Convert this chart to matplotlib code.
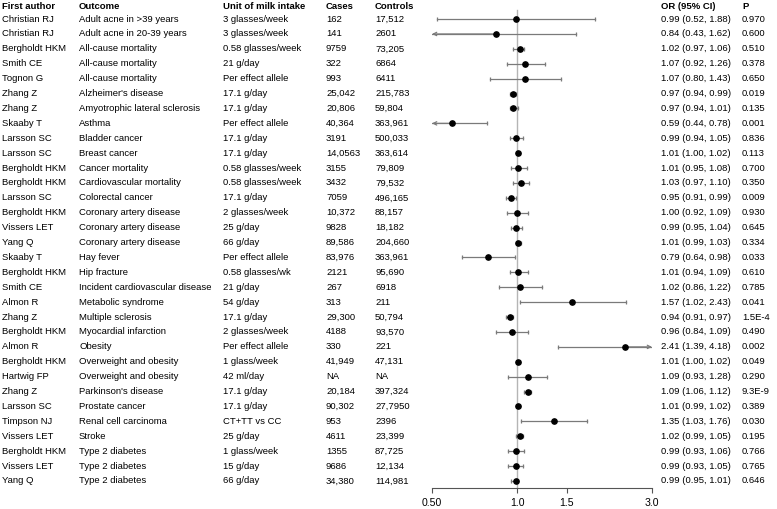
import numpy as np
import matplotlib
matplotlib.use('Agg')
from matplotlib import pyplot as plt
from matplotlib.transforms import blended_transform_factory

plt.rcParams['font.family'] = ['Liberation Sans', 'DejaVu Sans']

authors = ['Christian RJ', 'Christian RJ', 'Bergholdt HKM', 'Smith CE', 'Tognon G', 'Zhang Z', 'Zhang Z',
           'Skaaby T', 'Larsson SC', 'Larsson SC', 'Bergholdt HKM', 'Bergholdt HKM', 'Larsson SC',
           'Bergholdt HKM', 'Vissers LET', 'Yang Q', 'Skaaby T', 'Bergholdt HKM', 'Smith CE', 'Almon R',
           'Zhang Z', 'Bergholdt HKM', 'Almon R', 'Bergholdt HKM', 'Hartwig FP', 'Zhang Z', 'Larsson SC',
           'Timpson NJ', 'Vissers LET', 'Bergholdt HKM', 'Vissers LET', 'Yang Q']
outcomes = ['Adult acne in >39 years', 'Adult acne in 20-39 years', 'All-cause mortality', 'All-cause mortality',
            'All-cause mortality', "Alzheimer's disease", 'Amyotrophic lateral sclerosis', 'Asthma',
            'Bladder cancer', 'Breast cancer', 'Cancer mortality', 'Cardiovascular mortality',
            'Colorectal cancer', 'Coronary artery disease', 'Coronary artery disease', 'Coronary artery disease',
            'Hay fever', 'Hip fracture', 'Incident cardiovascular disease', 'Metabolic syndrome',
            'Multiple sclerosis', 'Myocardial infarction', 'Obesity', 'Overweight and obesity',
            'Overweight and obesity', "Parkinson's disease", 'Prostate cancer', 'Renal cell carcinoma',
            'Stroke', 'Type 2 diabetes', 'Type 2 diabetes', 'Type 2 diabetes']
units = ['3 glasses/week', '3 glasses/week', '0.58 glasses/week', '21 g/day', 'Per effect allele', '17.1 g/day',
         '17.1 g/day', 'Per effect allele', '17.1 g/day', '17.1 g/day', '0.58 glasses/week', '0.58 glasses/week',
         '17.1 g/day', '2 glasses/week', '25 g/day', '66 g/day', 'Per effect allele', '0.58 glasses/wk',
         '21 g/day', '54 g/day', '17.1 g/day', '2 glasses/week', 'Per effect allele', '1 glass/week',
         '42 ml/day', '17.1 g/day', '17.1 g/day', 'CT+TT vs CC', '25 g/day', '1 glass/week', '15 g/day',
         '66 g/day']
cases = ['162', '141', '9759', '322', '993', '25,042', '20,806', '40,364', '3191', '14,0563', '3155', '3432',
         '7059', '10,372', '9828', '89,586', '83,976', '2121', '267', '313', '29,300', '4188', '330', '41,949',
         'NA', '20,184', '90,302', '953', '4611', '1355', '9686', '34,380']
controls = ['17,512', '2601', '73,205', '6864', '6411', '215,783', '59,804', '363,961', '500,033', '363,614',
            '79,809', '79,532', '496,165', '88,157', '18,182', '204,660', '363,961', '95,690', '6918', '211',
            '50,794', '93,570', '221', '47,131', 'NA', '397,324', '27,7950', '2396', '23,399', '87,725',
            '12,134', '114,981']
or_est = [0.99, 0.84, 1.02, 1.07, 1.07, 0.97, 0.97, 0.59, 0.99, 1.01, 1.01, 1.03, 0.95, 1.00, 0.99, 1.01,
          0.79, 1.01, 1.02, 1.57, 0.94, 0.96, 2.41, 1.01, 1.09, 1.09, 1.01, 1.35, 1.02, 0.99, 0.99, 0.99]
ci_low = [0.52, 0.43, 0.97, 0.92, 0.80, 0.94, 0.94, 0.44, 0.94, 1.00, 0.95, 0.97, 0.91, 0.92, 0.95, 0.99,
          0.64, 0.94, 0.86, 1.02, 0.91, 0.84, 1.39, 1.00, 0.93, 1.06, 0.99, 1.03, 0.99, 0.93, 0.93, 0.95]
ci_high = [1.88, 1.62, 1.06, 1.26, 1.43, 0.99, 1.01, 0.78, 1.05, 1.02, 1.08, 1.10, 0.99, 1.09, 1.04, 1.03,
           0.98, 1.09, 1.22, 2.43, 0.97, 1.09, 4.18, 1.02, 1.28, 1.12, 1.02, 1.76, 1.05, 1.06, 1.05, 1.01]
p_values = ['0.970', '0.600', '0.510', '0.378', '0.650', '0.019', '0.135', '0.001', '0.836', '0.113', '0.700',
            '0.350', '0.009', '0.930', '0.645', '0.334', '0.033', '0.610', '0.785', '0.041', '1.5E-4', '0.490',
            '0.002', '0.049', '0.290', '9.3E-9', '0.389', '0.030', '0.195', '0.766', '0.765', '0.646']
headers = ['First author', 'Outcome', 'Unit of milk intake', 'Cases', 'Controls', 'OR (95% CI)', 'P']
xticks = [0.5, 1.0, 1.5, 3.0]
xticklabels = ['0.50', '1.0', '1.5', '3.0']

W, H = 777, 509
fig = plt.figure(figsize=(W / 100, H / 100), dpi=100)
ax = fig.add_axes([432 / W, (H - 488) / H, (652 - 432) / W, 488 / H])
xmin, xmax = 0.5, 3.0
ax.set_xscale('log')
ax.set_xlim(xmin, xmax)
ax.set_ylim(31.47, -1.28)

for s in ['top', 'right', 'left']:
    ax.spines[s].set_visible(False)
ax.spines['bottom'].set_color('#555555')
ax.spines['bottom'].set_linewidth(0.8)
ax.set_yticks([])
ax.set_xticks(xticks)
ax.set_xticklabels(xticklabels, fontsize=7.6)
ax.xaxis.set_minor_locator(matplotlib.ticker.NullLocator())
ax.tick_params(axis='x', length=3.5, width=0.8, color='#555555', pad=4)

# reference line at OR = 1
ax.plot([1, 1], [-0.6, 31.47], color='#b5b5b5', lw=1.0, zorder=1)

ci_col = '#7a7a7a'
for i, (o, lo, hi) in enumerate(zip(or_est, ci_low, ci_high)):
    l = max(lo, xmin)
    h = min(hi, xmax)
    ax.plot([l, h], [i, i], color=ci_col, lw=0.9, zorder=2)
    # arrows where the interval runs past the axis
    if lo < xmin:
        ax.annotate('', xy=(xmin, i), xytext=(o, i),
                    arrowprops=dict(arrowstyle='->', color=ci_col, lw=0.9, shrinkA=0, shrinkB=0,
                                    mutation_scale=6), annotation_clip=False)
    else:
        ax.plot([lo], [i], marker='|', ms=3.5, mew=0.9, color=ci_col, zorder=2)
    if hi > xmax:
        ax.annotate('', xy=(xmax, i), xytext=(o, i),
                    arrowprops=dict(arrowstyle='->', color=ci_col, lw=0.9, shrinkA=0, shrinkB=0,
                                    mutation_scale=6), annotation_clip=False)
    else:
        ax.plot([hi], [i], marker='|', ms=3.5, mew=0.9, color=ci_col, zorder=2)
    ax.plot([o], [i], marker='o', ms=3.8, color='black', zorder=3)

trans = blended_transform_factory(fig.transFigure, ax.transData)
col_x = [2, 79, 223, 326, 375, 661, 742]
fs = 6.8
for x, h in zip(col_x, headers):
    ax.text(x / W, -0.87, h, transform=trans, fontsize=fs, fontweight='bold', va='center', ha='left',
            clip_on=False)

for i in range(len(authors)):
    ci_txt = '%.2f (%.2f, %.2f)' % (or_est[i], ci_low[i], ci_high[i])
    vals = [authors[i], outcomes[i], units[i], cases[i], controls[i], ci_txt, p_values[i]]
    for x, v in zip(col_x, vals):
        ax.text(x / W, i, v, transform=trans, fontsize=fs, va='center', ha='left', clip_on=False)

fig.savefig('out.png', dpi=100)
